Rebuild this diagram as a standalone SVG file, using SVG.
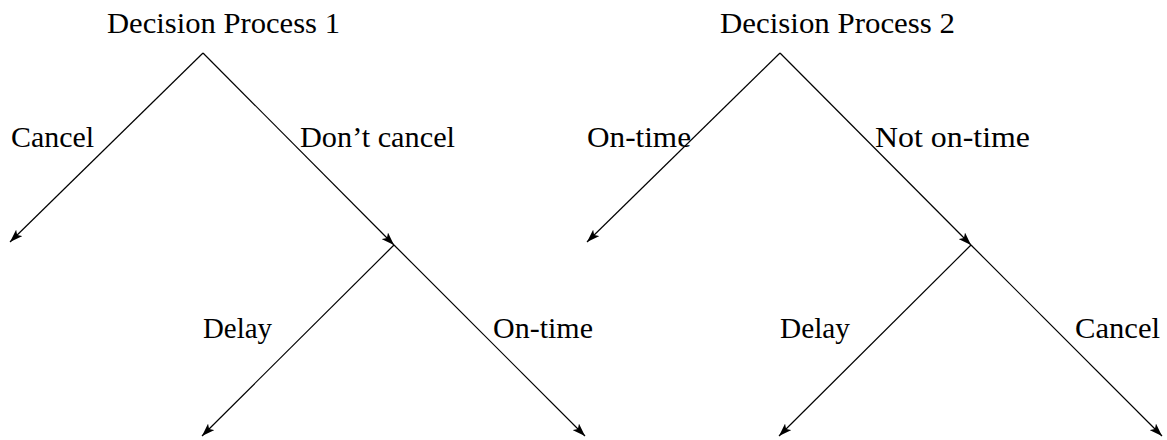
<svg xmlns="http://www.w3.org/2000/svg" width="1167" height="440" viewBox="0 0 1167 440">
<style>
text { font-family: 'Liberation Serif', 'Times New Roman', 'DejaVu Serif', serif; font-size: 29px; fill: #000; }
.edge { stroke: #000; stroke-width: 1.2; fill: none; marker-end: url(#arrow); }
</style>
<defs>
<marker id="arrow" viewBox="0 0 13 9" refX="13" refY="4.5" markerWidth="13" markerHeight="9" markerUnits="userSpaceOnUse" orient="auto">
<path d="M0,0 L13,4.5 L0,9 L3,4.5 Z" fill="#000"/>
</marker>
</defs>
<g id="connectors">
<line class="edge" x1="203" y1="53" x2="10" y2="242"/>
<line class="edge" x1="203" y1="53" x2="394" y2="245"/>
<line class="edge" x1="394" y1="245" x2="202" y2="436"/>
<line class="edge" x1="394" y1="245" x2="585" y2="436"/>
<line class="edge" x1="780" y1="53" x2="587" y2="242"/>
<line class="edge" x1="780" y1="53" x2="971" y2="245"/>
<line class="edge" x1="971" y1="245" x2="779" y2="436"/>
<line class="edge" x1="971" y1="245" x2="1162" y2="436"/>
</g>
<g id="title1"><text x="107" y="33" textLength="233" lengthAdjust="spacingAndGlyphs">Decision Process 1</text></g>
<g id="title2"><text x="720" y="33" textLength="235" lengthAdjust="spacingAndGlyphs">Decision Process 2</text></g>
<g id="label-cancel1"><text x="11" y="147" textLength="83" lengthAdjust="spacingAndGlyphs">Cancel</text></g>
<g id="label-dontcancel"><text x="300" y="147" textLength="155" lengthAdjust="spacingAndGlyphs">Don’t cancel</text></g>
<g id="label-delay1"><text x="203" y="338" textLength="69" lengthAdjust="spacingAndGlyphs">Delay</text></g>
<g id="label-ontime1"><text x="493" y="338" textLength="100" lengthAdjust="spacingAndGlyphs">On-time</text></g>
<g id="label-ontime2"><text x="587" y="147" textLength="104" lengthAdjust="spacingAndGlyphs">On-time</text></g>
<g id="label-notontime"><text x="875" y="147" textLength="155" lengthAdjust="spacingAndGlyphs">Not on-time</text></g>
<g id="label-delay2"><text x="780" y="338" textLength="70" lengthAdjust="spacingAndGlyphs">Delay</text></g>
<g id="label-cancel2"><text x="1075" y="338" textLength="85" lengthAdjust="spacingAndGlyphs">Cancel</text></g>
</svg>
